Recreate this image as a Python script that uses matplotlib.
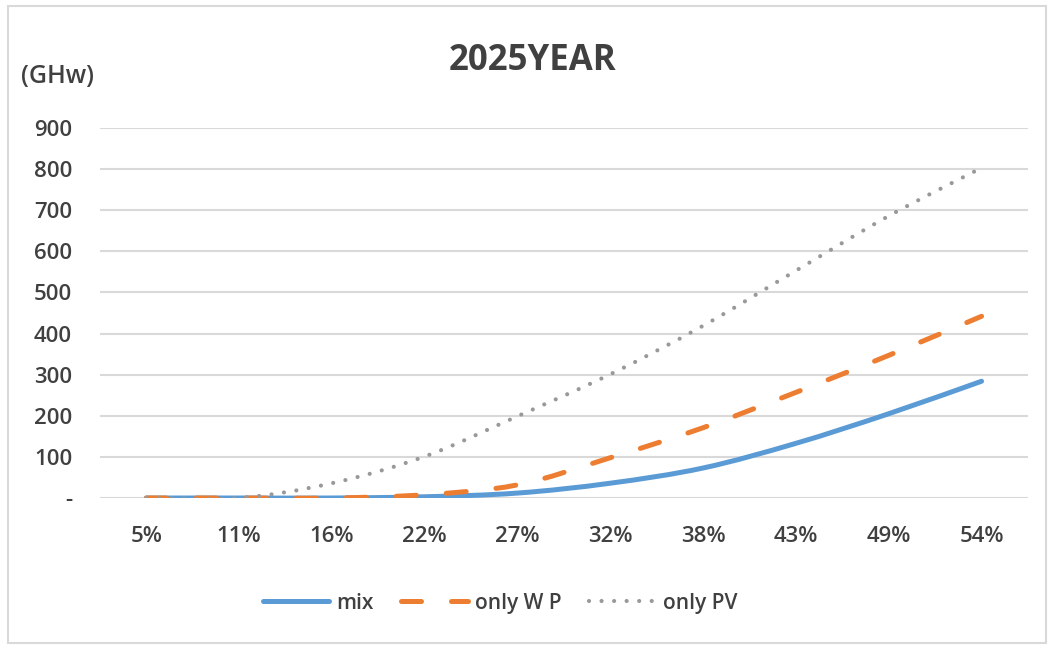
import matplotlib.pyplot as plt
from matplotlib.path import Path
from matplotlib.patches import PathPatch, Rectangle
from matplotlib.lines import Line2D

plt.rcParams['font.family'] = ['Open Sans', 'DejaVu Sans']

# share of renewables in the grid mix (x axis) and required capacity, GHw
shares = ["5%", "11%", "16%", "22%", "27%", "32%", "38%", "43%", "49%", "54%"]
mix = [0, 0, 0, 3, 12, 36, 73, 133, 205, 284]
only_wp = [0, 0, 0, 8, 32, 98, 171, 257, 347, 442]
only_pv = [0, 0, 36, 101, 199, 301, 419, 553, 686, 803]

y_ticks = [0, 100, 200, 300, 400, 500, 600, 700, 800, 900]
y_labels = ["-"] + [str(v) for v in y_ticks[1:]]

TEXT = '#404040'


def smooth_path(xs, ys):
    # excel-style smoothed line: cubic bezier through every point
    pts = list(zip(xs, ys))
    verts = [pts[0]]
    codes = [Path.MOVETO]
    n = len(pts)
    for i in range(n - 1):
        p0 = pts[i - 1] if i > 0 else pts[i]
        p1 = pts[i]
        p2 = pts[i + 1]
        p3 = pts[i + 2] if i + 2 < n else pts[i + 1]
        c1 = (p1[0] + (p2[0] - p0[0]) / 6, p1[1] + (p2[1] - p0[1]) / 6)
        c2 = (p2[0] - (p3[0] - p1[0]) / 6, p2[1] - (p3[1] - p1[1]) / 6)
        verts += [c1, c2, p2]
        codes += [Path.CURVE4] * 3
    return Path(verts, codes)


fig = plt.figure(figsize=(10.5, 6.47), dpi=100)
ax = fig.add_axes([0.0952, 0.2303, 0.8838, 0.5719])

# light frame around the whole chart area
fig.patches.append(Rectangle((0.008, 0.006), 0.988, 0.984, transform=fig.transFigure,
                             fill=False, edgecolor='#d9d9d9', linewidth=1.5))

x = list(range(len(shares)))
series = [
    (mix, 'mix', dict(color='#5b9bd5', linewidth=3.6, linestyle='-')),
    (only_wp, 'only W P', dict(color='#ed7d31', linewidth=3.6, linestyle=(0, (4, 6)))),
    (only_pv, 'only PV', dict(color='#999999', linewidth=3.0, linestyle=(0, (0.01, 3.0)))),
]

handles = []
for vals, name, st in series:
    patch = PathPatch(smooth_path(x, vals), facecolor='none', edgecolor=st['color'],
                      linewidth=st['linewidth'], linestyle=st['linestyle'],
                      capstyle='round', zorder=3)
    ax.add_patch(patch)
    h = Line2D([], [], color=st['color'], linewidth=st['linewidth'], linestyle=st['linestyle'],
               dash_capstyle='round', solid_capstyle='round', label=name)
    handles.append(h)

ax.set_xlim(-0.5, len(shares) - 0.5)
ax.set_ylim(0, 900)
ax.set_xticks(x)
ax.set_xticklabels(shares)
ax.set_yticks(y_ticks)
ax.set_yticklabels(y_labels)
ax.tick_params(length=0, labelsize=16, labelcolor=TEXT)
ax.tick_params(axis='x', pad=20)
ax.tick_params(axis='y', pad=20)
for lbl in ax.get_xticklabels() + ax.get_yticklabels():
    lbl.set_fontweight('semibold')

ax.grid(axis='y', color='#d9d9d9', linewidth=1.5)
ax.set_axisbelow(True)
for s in ax.spines.values():
    s.set_visible(False)

fig.text(0.507, 0.905, "2025YEAR", ha='center', va='center', fontsize=25,
         fontweight='bold', color=TEXT)
fig.text(0.02, 0.882, "(GHw)", ha='left', va='center', fontsize=18,
         fontweight='semibold', color=TEXT)

fig.legend(handles=handles, loc='center', bbox_to_anchor=(0.476, 0.068), ncol=3,
           frameon=False, handlelength=3.2, handletextpad=0.35,
           columnspacing=1.3, labelcolor=TEXT,
           prop={'weight': 'semibold', 'size': 15})

fig.savefig('out.png', dpi=100)
